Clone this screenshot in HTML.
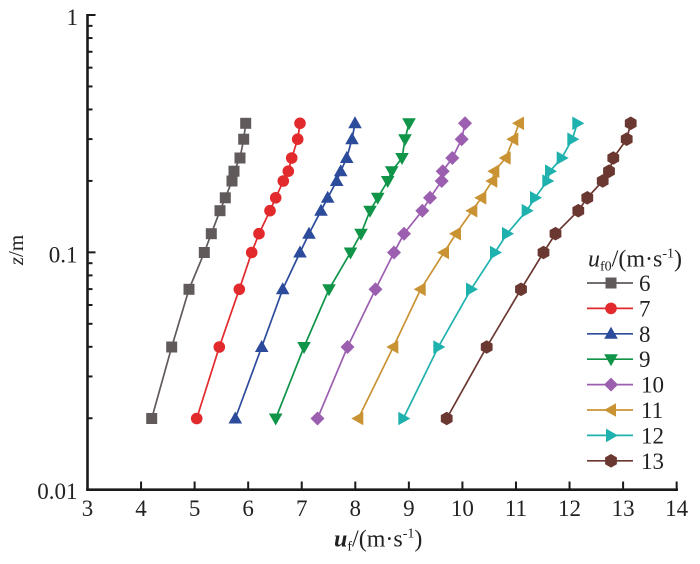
<!DOCTYPE html>
<html><head><meta charset="utf-8"><style>
html,body{margin:0;padding:0;background:#fff;}
svg{display:block;}
text{font-family:"Liberation Serif","DejaVu Serif",serif;fill:#222;}
</style></head><body>
<svg width="700" height="564" viewBox="0 0 700 564" xmlns="http://www.w3.org/2000/svg">
<defs>
<rect id="sq" x="-5.5" y="-5.5" width="11" height="11"/>
<circle id="ci" r="5.8"/>
<polygon id="tu" points="0,-7 6.8,5 -6.8,5"/>
<polygon id="td" points="0,7 6.8,-5 -6.8,-5"/>
<polygon id="di" points="0,-7 7,0 0,7 -7,0"/>
<polygon id="tl" points="-7,0 5,-6.8 5,6.8"/>
<polygon id="tr" points="7,0 -5,-6.8 -5,6.8"/>
<polygon id="hx" points="0,-6.8 5.89,-3.4 5.89,3.4 0,6.8 -5.89,3.4 -5.89,-3.4"/>
</defs>

<!-- axes -->
<g stroke="#1a1a1a" fill="none">
<line x1="87.5" y1="14" x2="87.5" y2="491" stroke-width="2.6"/>
<line x1="86.2" y1="489.7" x2="678" y2="489.7" stroke-width="2.6"/>
<g stroke-width="2">
<line x1="87.5" y1="15" x2="95.5" y2="15"/>
<line x1="87.5" y1="252.35" x2="95.5" y2="252.35"/>
<line x1="87.5" y1="25.85" x2="92.5" y2="25.85"/>
<line x1="87.5" y1="38.05" x2="92.5" y2="38.05"/>
<line x1="87.5" y1="51.75" x2="92.5" y2="51.75"/>
<line x1="87.5" y1="67.65" x2="92.5" y2="67.65"/>
<line x1="87.5" y1="86.45" x2="92.5" y2="86.45"/>
<line x1="87.5" y1="109.45" x2="92.5" y2="109.45"/>
<line x1="87.5" y1="139.1" x2="92.5" y2="139.1"/>
<line x1="87.5" y1="180.9" x2="92.5" y2="180.9"/>
<line x1="87.5" y1="263.2" x2="92.5" y2="263.2"/>
<line x1="87.5" y1="275.4" x2="92.5" y2="275.4"/>
<line x1="87.5" y1="289.1" x2="92.5" y2="289.1"/>
<line x1="87.5" y1="305" x2="92.5" y2="305"/>
<line x1="87.5" y1="323.8" x2="92.5" y2="323.8"/>
<line x1="87.5" y1="346.8" x2="92.5" y2="346.8"/>
<line x1="87.5" y1="376.46" x2="92.5" y2="376.46"/>
<line x1="87.5" y1="418.25" x2="92.5" y2="418.25"/>
<line x1="141.06" y1="481.5" x2="141.06" y2="489.7"/>
<line x1="194.62" y1="481.5" x2="194.62" y2="489.7"/>
<line x1="248.18" y1="481.5" x2="248.18" y2="489.7"/>
<line x1="301.74" y1="481.5" x2="301.74" y2="489.7"/>
<line x1="355.3" y1="481.5" x2="355.3" y2="489.7"/>
<line x1="408.86" y1="481.5" x2="408.86" y2="489.7"/>
<line x1="462.42" y1="481.5" x2="462.42" y2="489.7"/>
<line x1="515.98" y1="481.5" x2="515.98" y2="489.7"/>
<line x1="569.54" y1="481.5" x2="569.54" y2="489.7"/>
<line x1="623.1" y1="481.5" x2="623.1" y2="489.7"/>
<line x1="676.66" y1="481.5" x2="676.66" y2="489.7"/>
</g>
</g>

<!-- tick labels -->
<g font-size="23" text-anchor="end">
<text x="78" y="25">1</text>
<text x="77.5" y="262.7">0.1</text>
<text x="77.5" y="499">0.01</text>
</g>
<g font-size="23" text-anchor="middle">
<text x="87.5" y="516">3</text>
<text x="141.06" y="516">4</text>
<text x="194.62" y="516">5</text>
<text x="248.18" y="516">6</text>
<text x="301.74" y="516">7</text>
<text x="355.3" y="516">8</text>
<text x="408.86" y="516">9</text>
<text x="462.42" y="516">10</text>
<text x="515.98" y="516">11</text>
<text x="569.54" y="516">12</text>
<text x="623.1" y="516">13</text>
<text x="676.66" y="516">14</text>
</g>

<!-- axis labels -->
<text font-size="21" text-anchor="middle" transform="translate(23,250) rotate(-90)"><tspan font-style="italic">z</tspan>/m</text>
<text x="334" y="546.5" font-size="24"><tspan font-style="italic" font-weight="bold">u</tspan><tspan font-size="14" dy="4">f</tspan><tspan dy="-4">/(m·s</tspan><tspan font-size="14" dy="-9">-1</tspan><tspan dy="9">)</tspan></text>

<!-- series -->
<g fill="none" stroke-width="1.7">
<polyline stroke="#615a5b" points="151.7,418.5 171.7,347 189,289.3 204.3,252.5 211.3,233.7 220,210.7 225.3,197.8 232,181 234,171.2 240,158 243.7,139.2 245.7,123.3"/>
<polyline stroke="#e2292b" points="196.7,418.5 219.3,347 239.3,289.3 251.7,252.5 259,233.7 270,210.7 275.7,197.8 283.3,181 288.3,171.2 291.7,158 297.7,139.2 300,123.3"/>
<polyline stroke="#2c4b9b" points="235.3,418.5 261.7,347 282.7,289.3 300,252.5 309,233.7 321,210.7 327.7,197.8 336.7,181 340.7,171.2 346.7,158 352,139.2 355,123.3"/>
<polyline stroke="#0f9448" points="275.7,418.5 304,347 329,289.3 350.5,252.5 361,233.7 370,210.7 377.7,197.8 387.7,181 391.7,171.2 402,158 405,139.2 409,123.3"/>
<polyline stroke="#9c5fb0" points="317.5,418.5 347.5,347 375.5,289.3 394,252.5 404,233.7 422.3,210.7 430,197.8 441.7,181 442.7,171.2 452.3,158 461.7,139.2 465,123.3"/>
<polyline stroke="#c99233" points="358.3,418.5 393.3,347 420.7,289.3 444,252.5 456,233.7 472.3,210.7 481.3,197.8 492.3,181 494.3,171.2 505.7,158 513.3,139.2 519,123.3"/>
<polyline stroke="#1fb1ad" points="403.3,418.5 438.3,347 471,289.3 495,252.5 507,233.7 526.7,210.7 535,197.8 547.3,181 550,171.2 561.7,158 572.3,139.2 577.3,123.3"/>
<polyline stroke="#6a3731" points="446.7,418.5 486.7,347 521,289.3 543.5,252.5 555.5,233.7 578.3,210.7 587.3,197.8 602.7,181 609,171.2 613.3,158 626.7,139.2 630.7,123.3"/>
</g>

<g fill="#615a5b">
<use href="#sq" x="151.7" y="418.5"/><use href="#sq" x="171.7" y="347"/><use href="#sq" x="189" y="289.3"/><use href="#sq" x="204.3" y="252.5"/><use href="#sq" x="211.3" y="233.7"/><use href="#sq" x="220" y="210.7"/><use href="#sq" x="225.3" y="197.8"/><use href="#sq" x="232" y="181"/><use href="#sq" x="234" y="171.2"/><use href="#sq" x="240" y="158"/><use href="#sq" x="243.7" y="139.2"/><use href="#sq" x="245.7" y="123.3"/>
</g>
<g fill="#e2292b">
<use href="#ci" x="196.7" y="418.5"/><use href="#ci" x="219.3" y="347"/><use href="#ci" x="239.3" y="289.3"/><use href="#ci" x="251.7" y="252.5"/><use href="#ci" x="259" y="233.7"/><use href="#ci" x="270" y="210.7"/><use href="#ci" x="275.7" y="197.8"/><use href="#ci" x="283.3" y="181"/><use href="#ci" x="288.3" y="171.2"/><use href="#ci" x="291.7" y="158"/><use href="#ci" x="297.7" y="139.2"/><use href="#ci" x="300" y="123.3"/>
</g>
<g fill="#2c4b9b">
<use href="#tu" x="235.3" y="418.5"/><use href="#tu" x="261.7" y="347"/><use href="#tu" x="282.7" y="289.3"/><use href="#tu" x="300" y="252.5"/><use href="#tu" x="309" y="233.7"/><use href="#tu" x="321" y="210.7"/><use href="#tu" x="327.7" y="197.8"/><use href="#tu" x="336.7" y="181"/><use href="#tu" x="340.7" y="171.2"/><use href="#tu" x="346.7" y="158"/><use href="#tu" x="352" y="139.2"/><use href="#tu" x="355" y="123.3"/>
</g>
<g fill="#0f9448">
<use href="#td" x="275.7" y="418.5"/><use href="#td" x="304" y="347"/><use href="#td" x="329" y="289.3"/><use href="#td" x="350.5" y="252.5"/><use href="#td" x="361" y="233.7"/><use href="#td" x="370" y="210.7"/><use href="#td" x="377.7" y="197.8"/><use href="#td" x="387.7" y="181"/><use href="#td" x="391.7" y="171.2"/><use href="#td" x="402" y="158"/><use href="#td" x="405" y="139.2"/><use href="#td" x="409" y="123.3"/>
</g>
<g fill="#9c5fb0">
<use href="#di" x="317.5" y="418.5"/><use href="#di" x="347.5" y="347"/><use href="#di" x="375.5" y="289.3"/><use href="#di" x="394" y="252.5"/><use href="#di" x="404" y="233.7"/><use href="#di" x="422.3" y="210.7"/><use href="#di" x="430" y="197.8"/><use href="#di" x="441.7" y="181"/><use href="#di" x="442.7" y="171.2"/><use href="#di" x="452.3" y="158"/><use href="#di" x="461.7" y="139.2"/><use href="#di" x="465" y="123.3"/>
</g>
<g fill="#c99233">
<use href="#tl" x="358.3" y="418.5"/><use href="#tl" x="393.3" y="347"/><use href="#tl" x="420.7" y="289.3"/><use href="#tl" x="444" y="252.5"/><use href="#tl" x="456" y="233.7"/><use href="#tl" x="472.3" y="210.7"/><use href="#tl" x="481.3" y="197.8"/><use href="#tl" x="492.3" y="181"/><use href="#tl" x="494.3" y="171.2"/><use href="#tl" x="505.7" y="158"/><use href="#tl" x="513.3" y="139.2"/><use href="#tl" x="519" y="123.3"/>
</g>
<g fill="#1fb1ad">
<use href="#tr" x="403.3" y="418.5"/><use href="#tr" x="438.3" y="347"/><use href="#tr" x="471" y="289.3"/><use href="#tr" x="495" y="252.5"/><use href="#tr" x="507" y="233.7"/><use href="#tr" x="526.7" y="210.7"/><use href="#tr" x="535" y="197.8"/><use href="#tr" x="547.3" y="181"/><use href="#tr" x="550" y="171.2"/><use href="#tr" x="561.7" y="158"/><use href="#tr" x="572.3" y="139.2"/><use href="#tr" x="577.3" y="123.3"/>
</g>
<g fill="#6a3731">
<use href="#hx" x="446.7" y="418.5"/><use href="#hx" x="486.7" y="347"/><use href="#hx" x="521" y="289.3"/><use href="#hx" x="543.5" y="252.5"/><use href="#hx" x="555.5" y="233.7"/><use href="#hx" x="578.3" y="210.7"/><use href="#hx" x="587.3" y="197.8"/><use href="#hx" x="602.7" y="181"/><use href="#hx" x="609" y="171.2"/><use href="#hx" x="613.3" y="158"/><use href="#hx" x="626.7" y="139.2"/><use href="#hx" x="630.7" y="123.3"/>
</g>

<!-- legend -->
<text x="588" y="266.7" font-size="24"><tspan font-style="italic">u</tspan><tspan font-size="14" dy="4">f0</tspan><tspan dy="-4">/(m·s</tspan><tspan font-size="14" dy="-9">-1</tspan><tspan dy="9">)</tspan></text>
<g stroke-width="1.7">
<line x1="587" y1="283" x2="633" y2="283" stroke="#615a5b"/>
<line x1="587" y1="308.4" x2="633" y2="308.4" stroke="#e2292b"/>
<line x1="587" y1="333.8" x2="633" y2="333.8" stroke="#2c4b9b"/>
<line x1="587" y1="359.2" x2="633" y2="359.2" stroke="#0f9448"/>
<line x1="587" y1="384.6" x2="633" y2="384.6" stroke="#9c5fb0"/>
<line x1="587" y1="410" x2="633" y2="410" stroke="#c99233"/>
<line x1="587" y1="435.4" x2="633" y2="435.4" stroke="#1fb1ad"/>
<line x1="587" y1="460.8" x2="633" y2="460.8" stroke="#6a3731"/>
</g>
<use href="#sq" x="611" y="283" fill="#615a5b"/>
<use href="#ci" x="611" y="308.4" fill="#e2292b"/>
<use href="#tu" x="611" y="333.8" fill="#2c4b9b"/>
<use href="#td" x="611" y="359.2" fill="#0f9448"/>
<use href="#di" x="611" y="384.6" fill="#9c5fb0"/>
<use href="#tl" x="611" y="410" fill="#c99233"/>
<use href="#tr" x="611" y="435.4" fill="#1fb1ad"/>
<use href="#hx" x="611" y="460.8" fill="#6a3731"/>
<g font-size="23">
<text x="639" y="291">6</text>
<text x="639" y="316.4">7</text>
<text x="639" y="341.8">8</text>
<text x="639" y="367.2">9</text>
<text x="641" y="392.6">10</text>
<text x="641" y="418">11</text>
<text x="641" y="443.4">12</text>
<text x="641" y="468.8">13</text>
</g>
</svg>
</body></html>
